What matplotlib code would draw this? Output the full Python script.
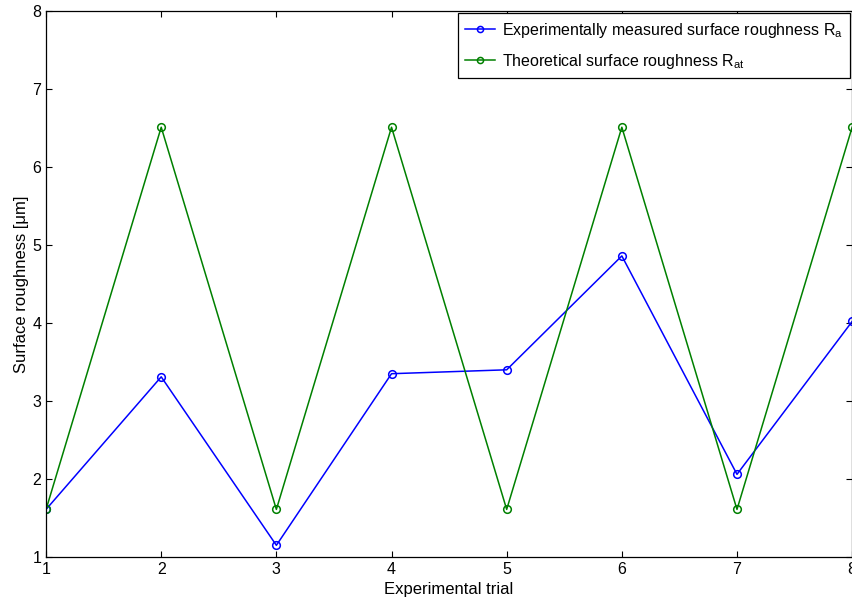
import matplotlib
matplotlib.use("Agg")
import matplotlib.pyplot as plt

plt.rcParams['font.family'] = ['Liberation Sans', 'DejaVu Sans']
plt.rcParams['mathtext.default'] = 'regular'

# data
trials = [1, 2, 3, 4, 5, 6, 7, 8]
ra_measured = [1.61, 3.31, 1.15, 3.35, 3.40, 4.86, 2.06, 4.02]
ra_theory = [1.61, 6.51, 1.61, 6.51, 1.61, 6.51, 1.61, 6.51]

fig = plt.figure(figsize=(8.53, 6.01), dpi=100)
ax = fig.add_axes([0.054, 0.0732, 0.945, 0.9085])

ax.plot(trials, ra_measured, color='blue', lw=1.1, marker='o', ms=5.5,
        mfc='none', mew=1.1, label='Experimentally measured surface roughness R$_a$')
ax.plot(trials, ra_theory, color='green', lw=1.1, marker='o', ms=5.5,
        mfc='none', mew=1.1, label='Theoretical surface roughness R$_{at}$')

ax.set_xlim(1, 8)
ax.set_ylim(1, 8)
ax.set_xticks(trials)
ax.set_yticks(range(1, 9))
ax.tick_params(direction='in', top=True, right=True, labelsize=11.5, length=4, width=0.8)
for s in ax.spines.values():
    s.set_linewidth(0.9)

ax.set_xlabel('Experimental trial', fontsize=12, labelpad=4)
ax.set_ylabel('Surface roughness [μm]', fontsize=12, labelpad=2)

leg = ax.legend(loc='upper right', fontsize=11.5, fancybox=False, framealpha=1,
                edgecolor='black', borderaxespad=0.15, handlelength=1.9,
                handletextpad=0.4, borderpad=0.45, labelspacing=0.75,
                markerscale=0.8)
leg.get_frame().set_linewidth(0.9)

fig.savefig('out.png', dpi=100)
